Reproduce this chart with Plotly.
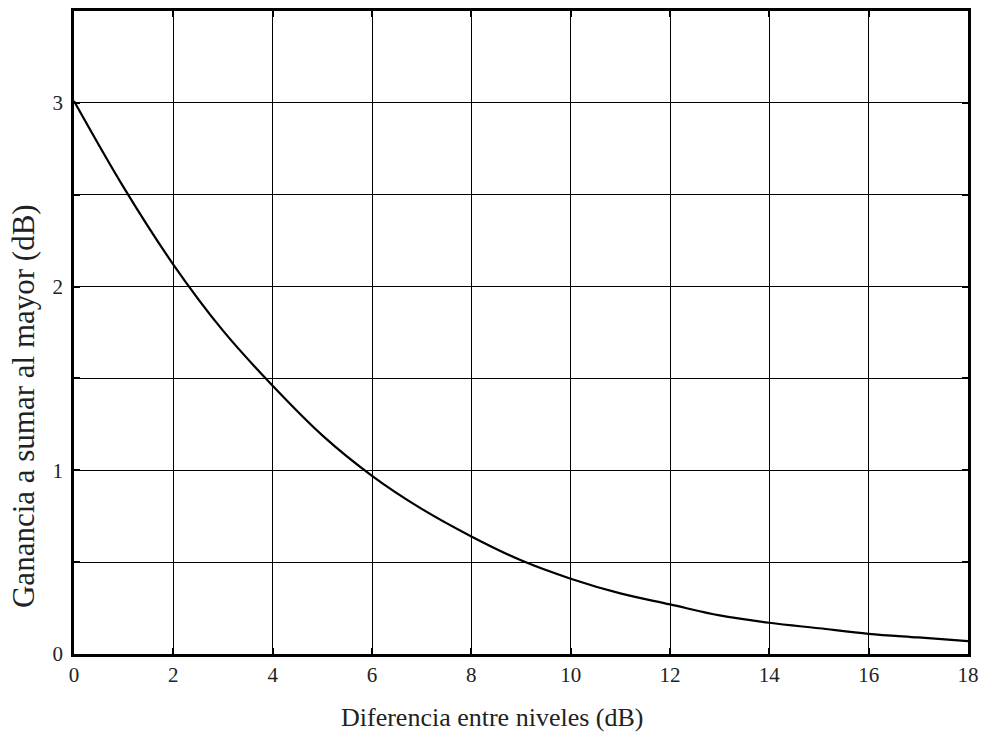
import plotly.graph_objects as go

diferencia_db = [0, 1, 2, 3, 4, 5, 6, 7, 8, 9, 10, 11, 12, 13, 14, 15, 16, 17, 18]
ganancia_db = [3.01, 2.54, 2.12, 1.76, 1.46, 1.19, 0.97, 0.79, 0.64, 0.51,
               0.41, 0.33, 0.27, 0.21, 0.17, 0.14, 0.11, 0.09, 0.07]

x_ticks = [0, 2, 4, 6, 8, 10, 12, 14, 16, 18]
y_ticks = [0, 0.5, 1, 1.5, 2, 2.5, 3, 3.5]
y_ticktext = ["0", "", "1", "", "2", "", "3", ""]
x_title = "Diferencia entre niveles (dB)"
y_title = "Ganancia a sumar al mayor (dB)"

tick_font = dict(family="Liberation Serif", size=21, color="#222")

fig = go.Figure()
fig.add_trace(go.Scatter(
    x=diferencia_db, y=ganancia_db, mode="lines",
    line=dict(color="black", width=2.2, shape="spline"),
    showlegend=False, hoverinfo="skip"))

fig.update_layout(
    width=983, height=733,
    margin=dict(l=74, r=15, t=11, b=79),
    paper_bgcolor="white", plot_bgcolor="white",
    font=tick_font,
)
fig.update_xaxes(
    range=[0, 18], tickvals=x_ticks, ticks="inside", ticklen=6, tickwidth=2,
    tickcolor="black", showgrid=True, gridcolor="black", gridwidth=1,
    showline=True, linecolor="black", linewidth=2.5, mirror="ticks",
    zeroline=False, automargin=False, tickfont=tick_font, ticklabelstandoff=0,
)
fig.update_yaxes(
    range=[0, 3.5], tickvals=y_ticks, ticktext=y_ticktext, ticks="inside",
    ticklen=6, tickwidth=2, tickcolor="black", showgrid=True, gridcolor="black",
    gridwidth=1, showline=True, linecolor="black", linewidth=2.5, mirror="ticks",
    zeroline=False, automargin=False, tickfont=tick_font, ticklabelstandoff=4,
)
fig.add_annotation(
    text=x_title, xref="paper", yref="paper", x=0.4676, y=-0.098,
    xanchor="center", yanchor="middle", showarrow=False,
    font=dict(family="Liberation Serif", size=26, color="#222"))
fig.add_annotation(
    text=y_title, xref="paper", yref="paper", x=-0.0559, y=0.3857,
    xanchor="center", yanchor="middle", showarrow=False, textangle=-90,
    font=dict(family="Liberation Serif", size=31, color="#222"))
fig.write_html(
    "out.html",
    config={"displayModeBar": False},
    post_script="document.body.style.margin='0';document.body.style.overflow='hidden';",
)
